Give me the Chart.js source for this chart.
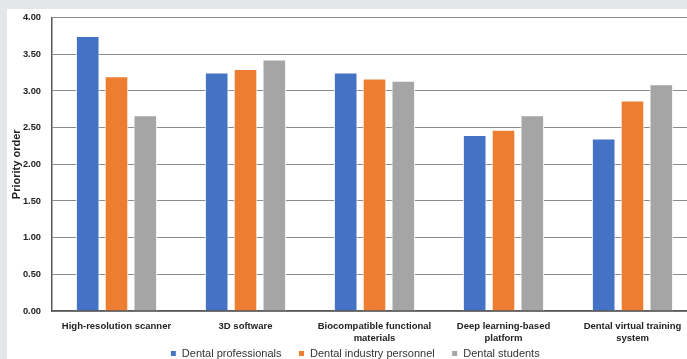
<!DOCTYPE html>
<html lang="en">
<head>
    <meta charset="UTF-8">
    <title>Priority order</title>
    <script src="https://cdn.jsdelivr.net/npm/chart.js@4.4.0/dist/chart.umd.min.js"></script>
    <style>
        html, body { margin: 0; padding: 0; overflow: hidden; background: #e5e6e8; }
        #bg { position: absolute; left: 7px; top: 9px; right: 0; bottom: 0; background: #fff; }
        #wrap { position: absolute; left: 7px; top: 1px; width: 700px; height: 382px; }
    </style>
</head>
<body>
    <div id="bg"></div>
    <div id="wrap"><canvas id="priorityChart"></canvas></div>
    <script>
        const categories = [
            'High-resolution scanner',
            '3D software',
            ['Biocompatible functional', 'materials'],
            ['Deep learning-based', 'platform'],
            ['Dental virtual training', 'system']
        ];
        const professionals = [3.75, 3.25, 3.25, 2.40, 2.35];
        const industry = [3.20, 3.30, 3.17, 2.47, 2.87];
        const students = [2.67, 3.43, 3.14, 2.67, 3.09];
        const yTicks = [0, 0.5, 1, 1.5, 2, 2.5, 3, 3.5, 4];

        // pull the legend up closer to the axis labels, like the original
        const legendNudge = {
            id: 'legendNudge',
            afterLayout(chart) {
                const l = chart.legend;
                l.top -= 14; l.bottom -= 14;
                l.left += 3; l.right += 3;
            }
        };

        const ctx = document.getElementById('priorityChart').getContext('2d');
        new Chart(ctx, {
            type: 'bar',
            data: {
                labels: categories,
                datasets: [
                    { label: 'Dental professionals', data: professionals, backgroundColor: '#4472c4', borderColor: '#ffffff', borderWidth: 1 },
                    { label: 'Dental industry personnel', data: industry, backgroundColor: '#ed7d31', borderColor: '#ffffff', borderWidth: 1 },
                    { label: 'Dental students', data: students, backgroundColor: '#a5a5a5', borderColor: '#ffffff', borderWidth: 1 }
                ]
            },
            plugins: [legendNudge],
            options: {
                responsive: true,
                maintainAspectRatio: false,
                animation: false,
                categoryPercentage: 0.67,
                barPercentage: 0.82,
                layout: { padding: { top: 2, right: 10, left: 0, bottom: 0 } },
                plugins: {
                    tooltip: { enabled: false },
                    legend: {
                        position: 'bottom',
                        labels: {
                            boxWidth: 6, boxHeight: 6, padding: 17,
                            color: '#333', font: { family: 'Liberation Sans', size: 11 }
                        }
                    }
                },
                scales: {
                    x: {
                        grid: { display: false, drawTicks: false },
                        border: { color: '#595959', width: 1.5 },
                        afterFit: axis => { axis.height = 34; },
                        ticks: {
                            color: '#222', padding: 9, maxRotation: 0, autoSkip: false,
                            font: { family: 'Liberation Sans', size: 9.5, weight: 'bold', lineHeight: 1.26 }
                        }
                    },
                    y: {
                        min: 0, max: 4,
                        afterBuildTicks: axis => { axis.ticks = yTicks.map(v => ({ value: v })); },
                        afterFit: axis => { axis.width = 45; },
                        grid: { color: '#8c8c8c', lineWidth: 1, drawTicks: false },
                        border: { color: '#595959', width: 1.5 },
                        title: {
                            display: true, text: 'Priority order', color: '#222', padding: { top: 3, bottom: 0 },
                            font: { family: 'Liberation Sans', size: 11, weight: 'bold' }
                        },
                        ticks: {
                            color: '#222', padding: 11,
                            font: { family: 'Liberation Sans', size: 9.3, weight: 'bold' },
                            callback: v => Number(v).toFixed(2)
                        }
                    }
                }
            }
        });
    </script>
</body>
</html>
